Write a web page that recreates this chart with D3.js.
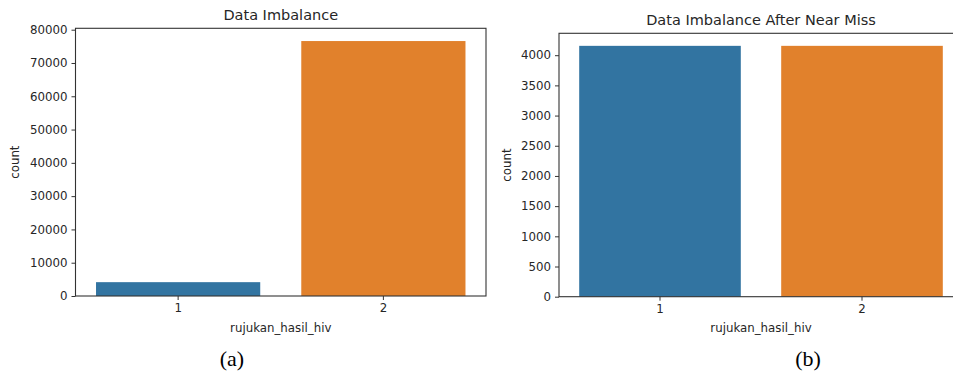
<!DOCTYPE html>
<html>
<head>
<meta charset="utf-8">
<script src="https://cdn.jsdelivr.net/npm/d3@7"></script>
<style>
  html, body { margin: 0; padding: 0; background: #fff; }
  svg { display: block; }
  text { font-family: "DejaVu Sans", sans-serif; fill: #262626; }
</style>
</head>
<body>
<svg id="chart" width="953" height="376"></svg>
<script>
// ---- data ----
const categories = ["1", "2"];
const countsBefore = [4155, 76590];
const countsAfter = [4155, 4155];
const ticksBefore = [0, 10000, 20000, 30000, 40000, 50000, 60000, 70000, 80000];
const ticksAfter = [0, 500, 1000, 1500, 2000, 2500, 3000, 3500, 4000];
const barColors = ["#3274a1", "#e1812c"];
const titles = ["Data Imbalance", "Data Imbalance After Near Miss"];
const xLabel = "rujukan_hasil_hiv";
const yLabel = "count";
const captions = ["(a)", "(b)"];

const svg = d3.select("#chart");

const panels = [
  { values: countsBefore, ticks: ticksBefore, title: titles[0], caption: captions[0],
    left: 75.5, right: 486, top: 28.3, bottom: 296, ylabX: 15, capX: 232 },
  { values: countsAfter, ticks: ticksAfter, title: titles[1], caption: captions[1],
    left: 559, right: 963, top: 33.3, bottom: 296.7, ylabX: 507, capX: 808 }
];

panels.forEach(p => {
  const g = svg.append("g");
  const x = d3.scaleBand().domain(categories).range([p.left, p.right])
    .paddingInner(0.2).paddingOuter(0.1);
  const y = d3.scaleLinear().domain([0, d3.max(p.values) * 1.05]).range([p.bottom, p.top]);

  g.selectAll("rect.bar").data(categories).join("rect")
    .attr("class", "bar")
    .attr("x", d => x(d))
    .attr("width", x.bandwidth())
    .attr("y", (d, i) => y(p.values[i]))
    .attr("height", (d, i) => y(0) - y(p.values[i]))
    .attr("fill", (d, i) => barColors[i]);

  // frame
  g.append("rect")
    .attr("x", p.left).attr("y", p.top)
    .attr("width", p.right - p.left).attr("height", p.bottom - p.top)
    .attr("fill", "none").attr("stroke", "#333").attr("stroke-width", 1.1);

  const yAxis = d3.axisLeft(y).tickValues(p.ticks).tickSize(4).tickPadding(4)
    .tickFormat(d3.format("d"));
  const ya = g.append("g").attr("transform", `translate(${p.left},0)`).call(yAxis);
  ya.select(".domain").remove();
  ya.selectAll("line").attr("stroke", "#333");
  ya.selectAll("text").attr("font-size", "11.8px").attr("fill", "#262626")
    .attr("font-family", "DejaVu Sans, sans-serif");

  const xAxis = d3.axisBottom(x).tickSize(4).tickPadding(4);
  const xa = g.append("g").attr("transform", `translate(0,${p.bottom})`).call(xAxis);
  xa.select(".domain").remove();
  xa.selectAll("line").attr("stroke", "#333");
  xa.selectAll("text").attr("font-size", "11.8px").attr("fill", "#262626")
    .attr("font-family", "DejaVu Sans, sans-serif");

  const cx = (p.left + p.right) / 2;
  g.append("text").attr("x", cx).attr("y", p.top - 8)
    .attr("text-anchor", "middle").attr("font-size", "14.5px").text(p.title);

  g.append("text").attr("x", cx).attr("y", 332)
    .attr("text-anchor", "middle").attr("font-size", "11.8px").text(xLabel);

  g.append("text")
    .attr("transform", `translate(${p.ylabX + 4},${(p.top + p.bottom) / 2}) rotate(-90)`)
    .attr("text-anchor", "middle").attr("font-size", "11.8px").text(yLabel);

  g.append("text").attr("x", p.capX).attr("y", 366)
    .attr("text-anchor", "middle").attr("font-size", "22px")
    .attr("font-family", "Liberation Serif, serif").style("font-family", "'Liberation Serif', serif")
    .attr("fill", "#000").style("fill", "#000").text(p.caption);
});
</script>
</body>
</html>
